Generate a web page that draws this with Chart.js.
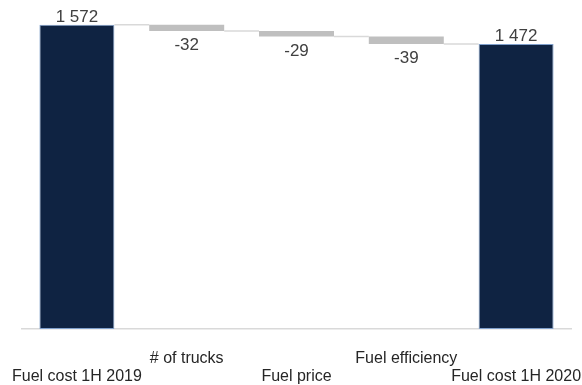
<!DOCTYPE html>
<html>
<head>
<meta charset="utf-8">
<script src="https://cdn.jsdelivr.net/npm/chart.js@4.4.1/dist/chart.umd.min.js"></script>
<style>
  html, body { margin: 0; padding: 0; background: #fff; }
  #wrap { width: 582px; height: 385px; position: relative; }
</style>
</head>
<body>
<div id="wrap"><canvas id="grafico"></canvas></div>
<script>
const categorias = ["Fuel cost 1H 2019", "# of trucks", "Fuel price", "Fuel efficiency", "Fuel cost 1H 2020"];
const valores = [1572, -32, -29, -39, 1472];
const ehTotal = [true, false, false, false, true];
const rotulos = ["1 572", "-32", "-29", "-39", "1 472"];

// monta as barras flutuantes [inicio, fim] a partir dos valores
function montarFaixas() {
    const faixas = [];
    let acumulado = 0;
    for (let i = 0; i < valores.length; i++) {
        if (ehTotal[i]) {
            faixas.push([0, valores[i]]);
            acumulado = valores[i];
        } else {
            faixas.push([acumulado + valores[i], acumulado]);
            acumulado += valores[i];
        }
    }
    return faixas;
}

const faixas = montarFaixas();

const conectoresERotulos = {
    id: "conectoresERotulos",
    beforeDatasetsDraw(chart) {
        const ctx = chart.ctx;
        const meta = chart.getDatasetMeta(0);
        const y = chart.scales.y;
        ctx.save();
        ctx.strokeStyle = "#d9d9d9";
        ctx.lineWidth = 1.5;
        let acumulado = 0;
        for (let i = 0; i < meta.data.length - 1; i++) {
            acumulado = ehTotal[i] ? valores[i] : acumulado + valores[i];
            const a = meta.data[i];
            const b = meta.data[i + 1];
            const py = y.getPixelForValue(acumulado);
            ctx.beginPath();
            ctx.moveTo(a.x + a.width / 2, py);
            ctx.lineTo(b.x - b.width / 2, py);
            ctx.stroke();
        }
        ctx.restore();
    },
    afterDatasetsDraw(chart) {
        const ctx = chart.ctx;
        const meta = chart.getDatasetMeta(0);
        ctx.save();
        ctx.font = "17px 'Liberation Sans', Arial, sans-serif";
        ctx.fillStyle = "#404040";
        ctx.textAlign = "center";
        ctx.textBaseline = "alphabetic";
        meta.data.forEach((bar, i) => {
            const topo = Math.min(bar.y, bar.base);
            const fundo = Math.max(bar.y, bar.base);
            if (valores[i] >= 0) {
                ctx.fillText(rotulos[i], bar.x, topo - 3);
            } else {
                ctx.fillText(rotulos[i], bar.x, fundo + 19);
            }
        });
        ctx.restore();
    }
};

new Chart(document.getElementById("grafico"), {
    type: "bar",
    data: {
        labels: categorias,
        datasets: [{
            data: faixas,
            backgroundColor: ehTotal.map(t => t ? "#0f2342" : "#bfbfbf"),
            borderColor: ehTotal.map(t => t ? "#7f9fcb" : "#bfbfbf"),
            borderWidth: ehTotal.map(t => t ? 1 : 0),
            borderSkipped: false,
            categoryPercentage: 1,
            barPercentage: 0.683
        }]
    },
    options: {
        responsive: true,
        maintainAspectRatio: false,
        animation: false,
        layout: { padding: { left: 22, right: 11, top: 0, bottom: 0 } },
        plugins: {
            legend: { display: false },
            tooltip: { enabled: false }
        },
        scales: {
            y: {
                display: false,
                min: 0,
                max: 1700
            },
            x: {
                grid: { display: false, drawTicks: false },
                border: { display: true, color: "#d9d9d9", width: 1.5 },
                afterFit(scale) {
                    scale.height = 56;
                    scale.paddingLeft = 0;
                    scale.paddingRight = 0;
                },
                ticks: {
                    padding: 21,
                    autoSkip: false,
                    maxRotation: 0,
                    color: "#262626",
                    font: { family: "'Liberation Sans', Arial, sans-serif", size: 16, lineHeight: 1.125 },
                    callback(valor, indice) {
                        return indice % 2 === 1 ? [categorias[indice], ""] : ["", categorias[indice]];
                    }
                }
            }
        }
    },
    plugins: [conectoresERotulos]
});
</script>
</body>
</html>
